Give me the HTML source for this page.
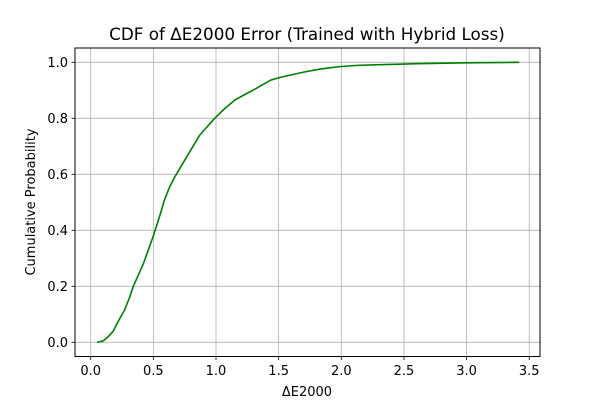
<!DOCTYPE html>
<html><head><meta charset="utf-8"><style>
body{margin:0;background:#fff}
svg{display:block;font-family:"DejaVu Sans","Liberation Sans",sans-serif}
</style></head><body>
<svg id="chart" width="600" height="400">
<rect x="0" y="0" width="600" height="400" fill="#fff"/>
<g id="grid"></g>
<g id="axes"></g>
<polyline id="curve" fill="none" stroke="#008000" stroke-width="1.6" stroke-linejoin="round"/>
<rect x="75" y="48" width="465" height="308.5" fill="none" stroke="#000" stroke-width="1"/>
<text x="307" y="40" text-anchor="middle" font-size="16.8">CDF of ΔE2000 Error (Trained with Hybrid Loss)</text>
<text x="307" y="396" text-anchor="middle" font-size="13">ΔE2000</text>
<text transform="translate(35,202) rotate(-90)" text-anchor="middle" font-size="13">Cumulative Probability</text>
</svg>
<script>
const xVals=[0.05,0.1,0.14,0.18,0.22,0.27,0.31,0.34,0.38,0.42,0.46,0.5,0.55,0.59,0.63,0.67,0.71,0.75,0.81,0.87,0.93,0.99,1.07,1.15,1.23,1.31,1.38,1.44,1.52,1.6,1.7,1.82,1.9,2.0,2.13,2.27,2.6,3.0,3.42];
const yVals=[0,0.005,0.02,0.04,0.075,0.115,0.16,0.2,0.24,0.28,0.33,0.38,0.45,0.51,0.555,0.59,0.62,0.65,0.695,0.74,0.77,0.8,0.835,0.865,0.885,0.904,0.922,0.937,0.947,0.955,0.965,0.975,0.98,0.985,0.989,0.991,0.995,0.998,1.0];
const xTicks=[0,0.5,1,1.5,2,2.5,3,3.5];
const yTicks=[0,0.2,0.4,0.6,0.8,1.0];
const NS="http://www.w3.org/2000/svg";
const sx=v=>90.7+v*125.3;
const sy=v=>342.3-v*280;
const grid=document.getElementById('grid'),axes=document.getElementById('axes');
function mk(tag,attrs,parent){const e=document.createElementNS(NS,tag);for(const k in attrs)e.setAttribute(k,attrs[k]);parent.appendChild(e);return e;}
xTicks.forEach(t=>{const x=sx(t);
const g=mk('line',{x1:x,x2:x,y1:48,y2:356.5,stroke:'#b0b0b0','stroke-width':0.8},grid);


const tk=mk('line',{x1:x,x2:x,y1:356.5,y2:360,stroke:'#000','stroke-width':0.8},axes);


const l=mk('text',{x:x,y:375,'text-anchor':'middle','font-size':13},axes);l.textContent=t.toFixed(1);

});
yTicks.forEach(t=>{const y=sy(t);
const g=mk('line',{x1:75,x2:540,y1:y,y2:y,stroke:'#b0b0b0','stroke-width':0.8},grid);


const tk=mk('line',{x1:71.5,x2:75,y1:y,y2:y,stroke:'#000','stroke-width':0.8},axes);


const l=mk('text',{x:68,y:y+4.5,'text-anchor':'end','font-size':13},axes);l.textContent=t.toFixed(1);

});
document.getElementById('curve').setAttribute('points',xVals.map((x,i)=>sx(x)+','+sy(yVals[i])).join(' '));
</script>
</body></html>
